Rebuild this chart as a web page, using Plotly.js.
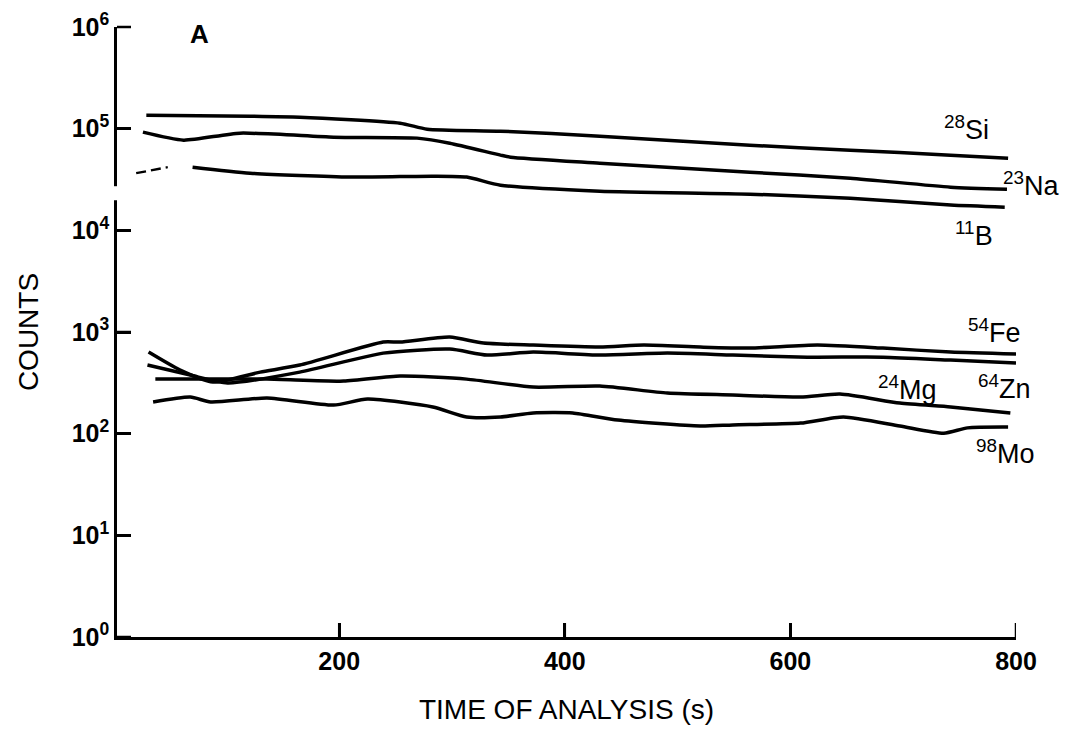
<!DOCTYPE html>
<html>
<head>
<meta charset="utf-8">
<script src="https://cdn.plot.ly/plotly-3.0.1.min.js"></script>
<style>html,body{margin:0;padding:0;background:#fff;}#chart{width:1078px;height:740px;}</style>
</head>
<body>
<div id="chart"></div>
<script>
// Time of analysis (s) and counts
var siTime = [29, 121, 165, 254, 278, 343, 431, 564, 653, 742, 793];
var siCounts = [135800, 132700, 129700, 113300, 98900, 94500, 84400, 68800, 61500, 54900, 51300];

var naTime = [26, 62, 112, 195, 269, 298, 343, 352, 431, 564, 653, 742, 792];
var naCounts = [92400, 77100, 90300, 82500, 80700, 72000, 54900, 52400, 45800, 37300, 32600, 26600, 25400];

var bStartTime = [20, 48];
var bStartCounts = [36500, 41800];
var bTime = [70, 121, 210, 283, 313, 343, 431, 564, 653, 742, 790];
var bCounts = [41800, 36500, 33400, 34100, 33400, 27800, 24300, 22700, 20700, 17700, 16900];

var feTime = [31, 59, 88, 130, 165, 239, 254, 298, 328, 372, 431, 470, 520, 564, 624, 682, 742, 800];
var feCounts = [634, 422, 322, 403, 473, 796, 796, 891, 778, 743, 711, 743, 711, 695, 743, 695, 634, 606];

var znTime = [30, 68, 101, 165, 239, 298, 331, 372, 431, 491, 549, 615, 682, 742, 800];
var znCounts = [473, 377, 315, 403, 620, 679, 593, 634, 593, 620, 593, 566, 566, 529, 495];

var mgTime = [37, 136, 204, 254, 313, 372, 431, 491, 549, 609, 644, 697, 742, 795];
var mgCounts = [344, 344, 329, 369, 344, 287, 294, 251, 240, 229, 245, 200, 183, 160];

var moTime = [35, 68, 86, 136, 195, 225, 283, 313, 343, 372, 407, 447, 520, 549, 609, 647, 697, 736, 757, 793];
var moCounts = [205, 229, 205, 224, 191, 219, 183, 146, 146, 160, 160, 136, 119, 122, 127, 146, 119, 101, 114, 116];

var yTickVals = [1, 10, 100, 1000, 10000, 100000, 1000000];
var yTickText = ['10<sup>0</sup>', '10<sup>1</sup>', '10<sup>2</sup>', '10<sup>3</sup>', '10<sup>4</sup>', '10<sup>5</sup>', '10<sup>6</sup>'];
var xTickVals = [200, 400, 600, 800];

// Series labels: [text, time, counts]
var seriesLabels = [
  ['<sup>28</sup>Si', 756, 101000],
  ['<sup>23</sup>Na', 814, 28400],
  ['<sup>11</sup>B', 763, 9200],
  ['<sup>54</sup>Fe', 781, 1020],
  ['<sup>24</sup>Mg', 704, 281],
  ['<sup>64</sup>Zn', 790, 287],
  ['<sup>98</sup>Mo', 791, 66]
];

var lineStyle = {color: '#000', width: 3.5, shape: 'spline', smoothing: 0.6};
function tr(x, y, extra) {
  var t = {x: x, y: y, type: 'scatter', mode: 'lines', line: Object.assign({}, lineStyle), hoverinfo: 'skip', cliponaxis: false};
  if (extra) Object.assign(t.line, extra);
  return t;
}
var data = [
  tr(siTime, siCounts), tr(naTime, naCounts),
  tr(bStartTime, bStartCounts, {width: 2.4, dash: '10px,5px'}), tr(bTime, bCounts),
  tr(feTime, feCounts), tr(znTime, znCounts), tr(mgTime, mgCounts), tr(moTime, moCounts)
];

var labelFont = {family: 'Liberation Sans, Arial, sans-serif', size: 27, color: '#000'};
// paper-coordinate conversion so labels beyond the x range are still drawn
var xr = [3, 800], yr = [0, 6];
function px(x) { return (x - xr[0]) / (xr[1] - xr[0]); }
function py(v) { return (Math.log10(v) - yr[0]) / (yr[1] - yr[0]); }
var annotations = seriesLabels.map(function (s) {
  return {x: px(s[1]), y: py(s[2]), xref: 'paper', yref: 'paper', xanchor: 'center', yanchor: 'middle',
          text: s[0], showarrow: false, font: labelFont};
});
annotations.push({x: px(76), y: py(850000), xref: 'paper', yref: 'paper', xanchor: 'center', yanchor: 'middle',
  text: '<b>A</b>', showarrow: false, font: {family: 'Liberation Sans, Arial, sans-serif', size: 26, color: '#000'}});

// tick marks drawn inward (the axis' own ticks are not rendered in this setup)
var tickLenPx = 14, plotW = 899, plotH = 610;
var shapes = [];
xTickVals.forEach(function (v) {
  shapes.push({type: 'line', xref: 'x', yref: 'paper', x0: v, x1: v, y0: 0, y1: tickLenPx / plotH,
               line: {color: '#000', width: 2.5}, layer: 'above'});
});
yTickVals.forEach(function (v) {
  shapes.push({type: 'line', xref: 'paper', yref: 'paper', x0: 0, x1: tickLenPx / plotW, y0: py(v), y1: py(v),
               line: {color: '#000', width: 2.5}, layer: 'above'});
});
// break in the vertical axis between 10^4 and 10^5
shapes.push({type: 'rect', xref: 'paper', yref: 'paper', x0: -0.012, x1: 0.012, y0: 0.716, y1: 0.739,
             fillcolor: '#fff', line: {width: 0}, layer: 'above'});

var tickFont = {family: 'Liberation Sans, Arial, sans-serif', size: 25, color: '#000', weight: 'bold'};
var layout = {
  width: 1078, height: 740,
  margin: {l: 117, r: 62, t: 27, b: 103},
  paper_bgcolor: '#fff', plot_bgcolor: '#fff',
  showlegend: false,
  xaxis: {
    range: xr, showgrid: false, zeroline: false,
    showline: true, linecolor: '#000', linewidth: 2.5,
    ticks: 'inside', ticklen: 14, tickwidth: 2.5, tickcolor: '#000',
    tickmode: 'array', tickvals: xTickVals, ticktext: xTickVals.map(String),
    tickfont: tickFont,
    title: {text: 'TIME OF ANALYSIS (s)', standoff: 26,
            font: {family: 'Liberation Sans, Arial, sans-serif', size: 28, color: '#000'}}
  },
  yaxis: {
    type: 'log', range: yr, showgrid: false, zeroline: false,
    showline: true, linecolor: '#000', linewidth: 2.5,
    ticks: 'inside', ticklen: 14, tickwidth: 2.5, tickcolor: '#000',
    tickmode: 'array', tickvals: yTickVals, ticktext: yTickText,
    tickfont: tickFont,
    title: {text: 'COUNTS', standoff: 25,
            font: {family: 'Liberation Sans, Arial, sans-serif', size: 28, color: '#000'}}
  },
  shapes: shapes,
  annotations: annotations
};

Plotly.newPlot('chart', data, layout, {displayModeBar: false});
</script>
</body>
</html>
